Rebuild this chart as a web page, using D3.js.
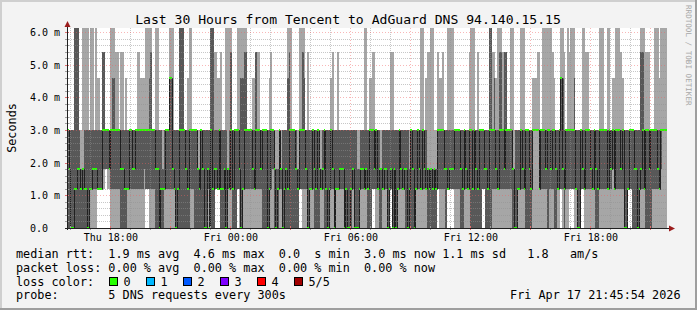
<!DOCTYPE html>
<html>
<head>
<meta charset="utf-8">
<script src="https://cdn.jsdelivr.net/npm/d3@7"></script>
<style>
body{margin:0;background:#f3f3f3;}
svg text{font-family:"DejaVu Sans Mono",monospace;white-space:pre;}
</style>
</head>
<body>
<div id="chart"></div>
<script>
// rtt levels seen in the graph (ms); codes below index into this
var rttLevels = [0, 1.2, 1.8, 3.0, 4.6, 5.4, 6.5];

// one entry per 300s step, 5 digits = sorted pings (min, 2nd, median, 4th, max)
var pingsThuEve = ["00333","00233","00033","00033","00166","00166","00266","00233","00123","00226",
  "00136","00136","00036","01133","01136","01236","01233","01236","11134","11134",
  "11133","12355","12355","22333","12333","12233","01336","01346","01346","01335",
  "01335","01333","00235","00235","00133","00134","01133","01333","01333","01233",
  "01233","01333","01335","01335","01334","01334","02334","11336","11336","01346",
  "01356","01333","01333","00236","00236","00033","00133","00123","01133","01333",
  "01333","01446","01446","01236","01133","00033","00133","00366","00366","00366",
  "00333","00233"];
var pingsThuNight = ["00134","00336","01336","01333","00333","00333","00223","00123","00333","00233",
  "00033","00033","01233","00033","00366","00166","00235","11235","11134","12334",
  "00135","00133","00233","00036","01226","01136","01356","00133","00333","00333",
  "11336","01236","00046","01146","01356","01356","01333","01333","01333","01234",
  "01134","01355","01335","01335","01233","00333","00333","00333","00033","01134",
  "01335","02333","00223","00023","00123","01333","01223","00033","01133","00233",
  "00146","00356","00336","00333","00333","00233","00123","11336","11336","01356",
  "01346","01233"];
var pingsFriMorning = ["00035","00133","01133","01333","00233","00133","00333","00233","01123","01233",
  "00333","00133","00033","01133","01334","01235","00033","01133","01135","01233",
  "01233","01233","00033","00133","00033","00033","00133","01233","00033","00033",
  "00023","00123","01233","01233","01136","01236","00133","00334","00334","11335",
  "11235","01333","01133","00233","00223","01133","01233","01233","00033","11133",
  "11235","00035","00233","00033","01133","01333","01233","01133","01233","00233",
  "00033","00123","00333","00233","00033","01133","01333","01233","01136","01336",
  "01233","01134"];
var pingsFriDay = ["00225","00125","00226","00126","00223","00123","11335","01334","01334","01335",
  "01233","00233","11136","11236","11236","11236","01333","01333","01333","01333",
  "00233","00133","01333","01233","01133","01335","00336","00136","00336","00233",
  "00135","00333","00333","11333","11233","00233","00133","00366","00366","01335",
  "01345","01234","01136","01356","01356","01335","01255","01355","01333","01333",
  "01336","00226","00023","00033","01133","01133","01336","01236","01136","00333",
  "00333","00233","00133","03334","03334","03334","03335","01135","01333","01336",
  "01336","01236"];
var pingsFriEve = ["00336","01336","01236","01335","00334","00233","01133","01333","11446","01246",
  "00135","01333","01336","11335","11336","11336","01346","01133","00033","00033",
  "11333","11236","01136","01335","01335","01333","01233","01133","01333","00233",
  "00133","01336","01336","01336","01333","01333","01136","01336","01233","02334",
  "01134","01336","01336","01336","01235","01334","00033","00033","11133","11333",
  "11333","00333","00233","00233","00033","01133","01256","01356","01136","00335",
  "00335","00235","00333","01333","01336","01336","01236","01134","02336","03336",
  "03336","03336"];

var yTicks = [0, 1, 2, 3, 4, 5, 6];
var xLabelTimes = ["2026-04-16T18:00","2026-04-17T00:00","2026-04-17T06:00","2026-04-17T12:00","2026-04-17T18:00"];
var lossLabels = ["0", "1", "2", "3", "4", "5/5"];
var lossColors = ["#26ff00", "#00b8ff", "#0059ff", "#7e00ff", "#ff0000", "#a10000"];
var legendRtt = "median rtt:  1.9 ms avg  4.6 ms max  0.0  s min  3.0 ms now 1.1 ms sd   1.8   am/s";
var legendLoss = "packet loss: 0.00 % avg  0.00 % max  0.00 % min  0.00 % now";
var legendProbe = "probe:       5 DNS requests every 300s";
var stampText = "Fri Apr 17 21:45:54 2026";
var titleText = "Last 30 Hours from Tencent to AdGuard DNS 94.140.15.15";

(function() {
var W = 697, H = 310;
var pL = 67, pR = 667, pT = 28, pB = 228;
var step = 300 * 1000;
var startTime = new Date("2026-04-16T15:50:00");
var endTime = new Date(startTime.getTime() + 30 * 3600 * 1000);

var codes = pingsThuEve.concat(pingsThuNight, pingsFriMorning, pingsFriDay, pingsFriEve);
var data = codes.map(function(c, i) {
  var p = c.split('').map(function(k) { return rttLevels[+k]; });
  return { t0: new Date(startTime.getTime() + i * step), t1: new Date(startTime.getTime() + (i + 1) * step),
    p1: p[0], p2: p[1], med: p[2], p4: p[3], p5: p[4] };
});

var x = d3.scaleTime().domain([startTime, endTime]).range([pL, pR]);
var y = d3.scaleLinear().domain([0, 6.122]).range([pB, pT]);

var svg = d3.select('#chart').append('svg').attr('width', W).attr('height', H);

// frame
svg.append('rect').attr('width', W).attr('height', H).attr('fill', '#f3f3f3');
svg.append('rect').attr('x', 0).attr('y', 0).attr('width', W).attr('height', 2).attr('fill', '#cfcfcf');
svg.append('rect').attr('x', 0).attr('y', 0).attr('width', 2).attr('height', H).attr('fill', '#cfcfcf');
svg.append('rect').attr('x', 0).attr('y', H - 2).attr('width', W).attr('height', 2).attr('fill', '#9e9e9e');
svg.append('rect').attr('x', W - 2).attr('y', 0).attr('width', 2).attr('height', H).attr('fill', '#9e9e9e');

svg.append('rect').attr('x', pL).attr('y', pT).attr('width', pR - pL).attr('height', pB - pT).attr('fill', '#fff');

svg.append('clipPath').attr('id', 'plotclip').append('rect')
  .attr('x', pL).attr('y', pT).attr('width', pR - pL).attr('height', pB - pT);

var plot = svg.append('g').attr('clip-path', 'url(#plotclip)');

// smoke
var smoke = plot.append('g').attr('shape-rendering', 'crispEdges');
smoke.selectAll('rect.outer').data(data).enter().append('rect')
  .attr('x', function(d) { return x(d.t0); })
  .attr('width', function(d) { return x(d.t1) - x(d.t0); })
  .attr('y', function(d) { return y(d.p5); })
  .attr('height', function(d) { return y(d.p1) - y(d.p5); })
  .attr('fill', '#a6a6a6');
smoke.selectAll('rect.inner').data(data).enter().append('rect')
  .attr('x', function(d) { return x(d.t0); })
  .attr('width', function(d) { return x(d.t1) - x(d.t0); })
  .attr('y', function(d) { return y(d.p4); })
  .attr('height', function(d) { return y(d.p2) - y(d.p4); })
  .attr('fill', '#585858');

// median line
var medPts = data.map(function(d) { return [x(d.t0), y(d.med)]; });
medPts.push([x(endTime), y(data[data.length - 1].med)]);
plot.append('path')
  .attr('d', d3.line().curve(d3.curveStepAfter)(medPts.map(function(p) { return [Math.round(p[0]) + 0.5, Math.round(p[1]) + 0.5]; })))
  .attr('fill', 'none').attr('stroke', '#202020').attr('stroke-width', 1);

// median blips in loss colour
plot.append('g').attr('shape-rendering', 'crispEdges').selectAll('rect').data(data).enter().append('rect')
  .attr('x', function(d) { return x(d.t0); })
  .attr('width', function(d) { return x(d.t1) - x(d.t0); })
  .attr('y', function(d) { return Math.round(y(d.med)) - 1; })
  .attr('height', 2)
  .attr('fill', lossColors[0]);

// grid (drawn on top)
var grid = svg.append('g').attr('shape-rendering', 'crispEdges');
var minorY = d3.range(0, 6.01, 0.2).filter(function(v) { return Math.abs(v - Math.round(v)) > 0.01; });
grid.selectAll('line.ymin').data(minorY).enter().append('line')
  .attr('x1', pL).attr('x2', pR)
  .attr('y1', function(d) { return Math.round(y(d)) + 0.5; }).attr('y2', function(d) { return Math.round(y(d)) + 0.5; })
  .attr('stroke', '#8f8f8f').attr('stroke-opacity', 0.5).attr('stroke-dasharray', '1,1');
var hours = d3.timeHour.range(startTime, endTime);
grid.selectAll('line.xmin').data(hours.filter(function(h) { return h.getHours() % 3 !== 0; })).enter().append('line')
  .attr('y1', pT).attr('y2', pB)
  .attr('x1', function(d) { return Math.round(x(d)) + 0.5; }).attr('x2', function(d) { return Math.round(x(d)) + 0.5; })
  .attr('stroke', '#8f8f8f').attr('stroke-opacity', 0.5).attr('stroke-dasharray', '1,1');
grid.selectAll('line.ymaj').data(yTicks.slice(1)).enter().append('line')
  .attr('x1', pL).attr('x2', pR)
  .attr('y1', function(d) { return Math.round(y(d)) + 0.5; }).attr('y2', function(d) { return Math.round(y(d)) + 0.5; })
  .attr('stroke', '#f06060').attr('stroke-opacity', 0.45).attr('stroke-dasharray', '1,2');
grid.selectAll('line.xmaj').data(hours.filter(function(h) { return h.getHours() % 3 === 0; })).enter().append('line')
  .attr('y1', pT).attr('y2', pB + 3)
  .attr('x1', function(d) { return Math.round(x(d)) + 0.5; }).attr('x2', function(d) { return Math.round(x(d)) + 0.5; })
  .attr('stroke', '#f06060').attr('stroke-opacity', 0.45).attr('stroke-dasharray', '1,2');

// axis ticks
grid.selectAll('line.yt').data(minorY.concat(yTicks)).enter().append('line')
  .attr('x1', pL - 2).attr('x2', pL + 2)
  .attr('y1', function(d) { return Math.round(y(d)) + 0.5; }).attr('y2', function(d) { return Math.round(y(d)) + 0.5; })
  .attr('stroke', function(d) { return yTicks.indexOf(d) >= 0 ? '#e07070' : '#a0a0a0'; });
grid.selectAll('line.xt').data(hours).enter().append('line')
  .attr('y1', pB - 2).attr('y2', pB + 2)
  .attr('x1', function(d) { return Math.round(x(d)) + 0.5; }).attr('x2', function(d) { return Math.round(x(d)) + 0.5; })
  .attr('stroke', function(d) { return d.getHours() % 3 === 0 ? '#e07070' : '#a0a0a0'; });

// axes lines and arrows
svg.append('line').attr('x1', pL + 0.5).attr('x2', pL + 0.5).attr('y1', pT - 3).attr('y2', pB + 2)
  .attr('stroke', '#202020').attr('shape-rendering', 'crispEdges');
svg.append('line').attr('x1', pL - 2).attr('x2', pR + 3).attr('y1', pB + 0.5).attr('y2', pB + 0.5)
  .attr('stroke', '#202020').attr('shape-rendering', 'crispEdges');
svg.append('path').attr('d', 'M' + (pL - 2.5) + ',' + (pT - 1) + 'L' + (pL + 0.5) + ',' + (pT - 7) + 'L' + (pL + 3.5) + ',' + (pT - 1) + 'Z')
  .attr('fill', '#9b1c1c');
svg.append('path').attr('d', 'M' + (pR + 2) + ',' + (pB - 2.5) + 'L' + (pR + 8) + ',' + (pB + 0.5) + 'L' + (pR + 2) + ',' + (pB + 3.5) + 'Z')
  .attr('fill', '#9b1c1c');

// axis labels
var yAxis = svg.append('g').attr('transform', 'translate(60,0)')
  .call(d3.axisLeft(y).tickValues(yTicks).tickSize(0).tickPadding(0)
    .tickFormat(function(d) { return d === 0 ? '0.0' : d.toFixed(1) + ' m'; }));
yAxis.select('.domain').remove();
yAxis.selectAll('text').attr('x', function(d) { return d === 0 ? -12 : 0; })
  .attr('dy', '0.35em').attr('font-size', '10px').attr('font-family', 'DejaVu Sans Mono').attr('fill', '#000');

var xAxis = svg.append('g').attr('transform', 'translate(0,' + pB + ')')
  .call(d3.axisBottom(x).tickValues(xLabelTimes.map(function(s) { return new Date(s); })).tickSize(0)
    .tickFormat(d3.timeFormat('%a %H:%M')));
xAxis.select('.domain').remove();
xAxis.selectAll('text').attr('y', 13).attr('dy', 0).attr('font-size', '10px').attr('font-family', 'DejaVu Sans Mono').attr('fill', '#000');

// title and side texts
svg.append('text').attr('x', 348).attr('y', 24).attr('text-anchor', 'middle')
  .attr('font-size', '13.1px').attr('fill', '#000').text(titleText);
svg.append('text').attr('transform', 'translate(15.5,128) rotate(-90)').attr('text-anchor', 'middle')
  .attr('font-size', '11.8px').attr('fill', '#000').text('Seconds');
svg.append('text').attr('transform', 'translate(685.5,5) rotate(90)')
  .attr('font-size', '7.6px').attr('fill', '#a8a8a8').text('RRDTOOL / TOBI OETIKER');

// legend
var lg = svg.append('g').attr('font-size', '11.8px').attr('fill', '#000');
lg.append('text').attr('x', 16).attr('y', 257.7).text(legendRtt);
lg.append('text').attr('x', 16).attr('y', 271.6).text(legendLoss);
lg.append('text').attr('x', 16).attr('y', 285.5).text('loss color:');
lg.append('text').attr('x', 16).attr('y', 299.4).text(legendProbe);
lg.append('text').attr('x', 680.5).attr('y', 299.4).attr('text-anchor', 'end').text(stampText);
var sw = lg.selectAll('g.sw').data(lossLabels).enter().append('g')
  .attr('transform', function(d, i) { return 'translate(' + (108.5 + i * 37) + ',0)'; });
sw.append('rect').attr('x', 0.5).attr('y', 277.5).attr('width', 8).attr('height', 8)
  .attr('fill', function(d, i) { return lossColors[i]; }).attr('stroke', '#000').attr('shape-rendering', 'crispEdges');
sw.append('text').attr('x', 15).attr('y', 285.5).text(function(d) { return d; });
})();
</script>
</body>
</html>
